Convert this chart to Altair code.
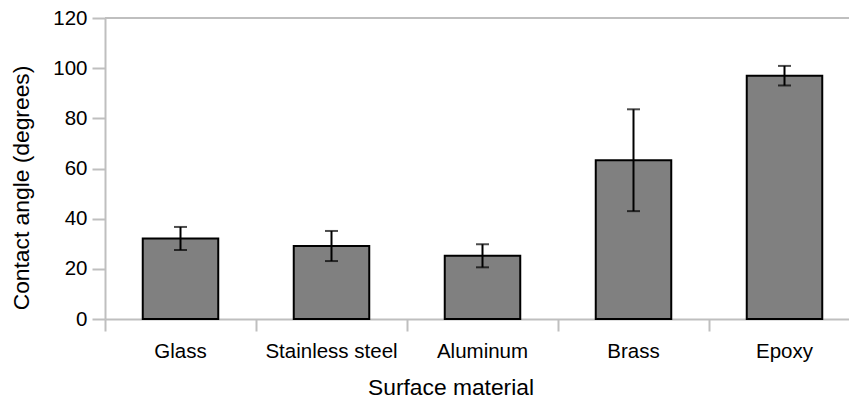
import altair as alt
import pandas as pd

materials = ["Glass", "Stainless steel", "Aluminum", "Brass", "Epoxy"]
means = [32.1, 29.1, 25.2, 63.3, 97.0]
errors = [4.6, 6.0, 4.6, 20.3, 3.9]
y_ticks = [0, 20, 40, 60, 80, 100, 120]

df = pd.DataFrame({"material": materials, "mean": means, "err": errors})
df["lo"] = df["mean"] - df["err"]
df["hi"] = df["mean"] + df["err"]

FONT = "Liberation Sans"
AXIS_GRAY = "#bfbfbf"

x_enc = alt.X(
    "material:N",
    sort=materials,
    title="Surface material",
    scale=alt.Scale(range=[0, 755], paddingInner=0, paddingOuter=0),
    axis=alt.Axis(
        labelAngle=0,
        tickSize=12,
        labelPadding=10,
        titlePadding=15,
        titleX=345.5,
        bandPosition=0,
    ),
)
y_scale = alt.Scale(domain=[0, 120], nice=False, zero=True)

base = alt.Chart(df)

bars = base.mark_bar(
    color="#808080", stroke="black", strokeWidth=2, width=alt.RelativeBandSize(0.5)
).encode(
    x=x_enc,
    y=alt.Y(
        "mean:Q",
        scale=y_scale,
        title="Contact angle (degrees)",
        axis=alt.Axis(
            values=y_ticks,
            tickSize=13,
            labelPadding=5,
            titlePadding=19,
            titleY=169.5,
            grid=False,
        ),
    ),
)

err_line = base.mark_rule(color="black", strokeWidth=2).encode(
    x=alt.X("material:N", sort=materials),
    y=alt.Y("lo:Q", scale=y_scale),
    y2="hi:Q",
)

cap_hi = base.mark_tick(color="black", size=13, thickness=2).encode(
    x=alt.X("material:N", sort=materials),
    y=alt.Y("hi:Q", scale=y_scale),
)
cap_lo = base.mark_tick(color="black", size=13, thickness=2).encode(
    x=alt.X("material:N", sort=materials),
    y=alt.Y("lo:Q", scale=y_scale),
)

top_line = alt.Chart(pd.DataFrame({"v": [120]})).mark_rule(
    color=AXIS_GRAY, strokeWidth=2
).encode(y=alt.Y("v:Q", scale=y_scale), x=alt.value(0), x2=alt.value(760))

chart = (
    alt.layer(top_line, bars, err_line, cap_hi, cap_lo)
    .properties(
        width=744,
        height=301,
        autosize=alt.AutoSizeParams(type="none"),
        padding={"left": 105, "top": 18, "right": 0, "bottom": 82},
    )
    .configure_view(stroke=None)
    .configure_axis(
        labelFont=FONT,
        titleFont=FONT,
        labelFontSize=20.5,
        titleFontSize=22.8,
        labelColor="black",
        titleColor="black",
        titleFontWeight="normal",
        domainColor=AXIS_GRAY,
        domainWidth=2,
        tickColor=AXIS_GRAY,
        tickWidth=2,
    )
)

chart.save("out.html", embed_options={"renderer": "svg", "actions": False})
